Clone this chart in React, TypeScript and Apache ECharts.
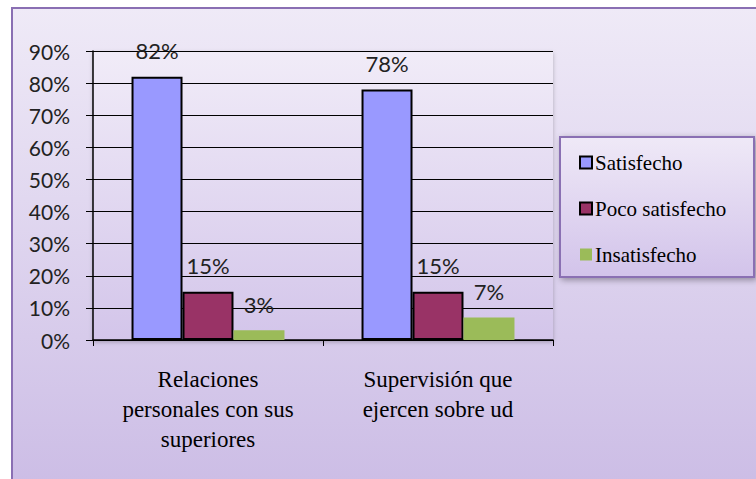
import React, { useEffect, useRef } from "react";
import * as echarts from "echarts";

const categories = [
  "Relaciones\npersonales con sus\nsuperiores",
  "Supervisión que\nejercen sobre ud",
];
const seriesNames = ["Satisfecho", "Poco satisfecho", "Insatisfecho"];
const satisfecho = [82, 78];
const pocoSatisfecho = [15, 15];
const insatisfecho = [3, 7];
const yTicks = { min: 0, max: 90, interval: 10 };

const SERIF = "Liberation Serif, serif";
const SANS = "Lato, sans-serif";

export default function App() {
  const ref = useRef<HTMLDivElement>(null);
  useEffect(() => {
    if (!ref.current) return;
    const chart = echarts.init(ref.current, null, { renderer: "svg" });
    const grad = (a: string, b: string) =>
      new echarts.graphic.LinearGradient(0, 0, 0, 1, [
        { offset: 0, color: a },
        { offset: 1, color: b },
      ]);
    const labelCfg = {
      show: true,
      position: "top",
      distance: 15,
      formatter: "{c}%",
      fontFamily: SANS,
      fontSize: 22,
      color: "#222",
    };
    chart.setOption({
      animation: false,
      backgroundColor: "#ffffff",
      graphic: [
        {
          type: "rect",
          z: -10,
          silent: true,
          shape: { x: 12, y: 8, width: 800, height: 520 },
          style: {
            fill: grad("#efeaf7", "#c9b9e4"),
            stroke: "#8a6fb3",
            lineWidth: 2,
          },
        },
        {
          type: "rect",
          z: -9,
          silent: true,
          shape: { x: 93, y: 51, width: 460, height: 289 },
          style: {
            fill: grad("#f1ecf8", "#d3c5ea"),
            shadowBlur: 4,
            shadowColor: "rgba(0,0,0,0.25)",
            shadowOffsetY: 2,
          },
        },
        {
          type: "rect",
          z: -5,
          silent: true,
          shape: { x: 560, y: 137, width: 194, height: 140 },
          style: {
            fill: grad("#efe9f7", "#d2c3ea"),
            stroke: "#8a6fb3",
            lineWidth: 2,
            shadowBlur: 6,
            shadowColor: "rgba(0,0,0,0.35)",
            shadowOffsetX: 2,
            shadowOffsetY: 2,
          },
        },
      ],
      grid: { left: 93, right: 203, top: 51, bottom: 139 },
      legend: {
        orient: "vertical",
        left: 574,
        top: 147,
        itemGap: 25,
        itemWidth: 12,
        itemHeight: 12,
        icon: "rect",
        data: seriesNames,
        textStyle: {
          fontFamily: SERIF,
          fontSize: 21,
          color: "#000",
          padding: [0, 0, 0, -2],
        },
      },
      xAxis: {
        type: "category",
        data: categories,
        axisLine: { show: true, lineStyle: { color: "#000", width: 1.5 } },
        axisTick: { show: true, length: 6, lineStyle: { color: "#000" } },
        axisLabel: {
          interval: 0,
          fontFamily: SERIF,
          fontSize: 23,
          lineHeight: 30,
          color: "#000",
          margin: 24,
        },
      },
      yAxis: {
        type: "value",
        min: yTicks.min,
        max: yTicks.max,
        interval: yTicks.interval,
        axisLine: { show: true, lineStyle: { color: "#000", width: 1.5 } },
        axisTick: { show: true, length: 7, lineStyle: { color: "#000" } },
        splitLine: { show: true, lineStyle: { color: "#000", width: 1 } },
        axisLabel: {
          formatter: "{value}%",
          fontFamily: SANS,
          fontSize: 21,
          color: "#222",
          margin: 23,
        },
      },
      series: [
        {
          name: seriesNames[0],
          type: "bar",
          data: satisfecho,
          barGap: "0%",
          barCategoryGap: "33.5%",
          itemStyle: { color: "#9999ff", borderColor: "#000", borderWidth: 2 },
          label: labelCfg,
        },
        {
          name: seriesNames[1],
          type: "bar",
          data: pocoSatisfecho,
          barGap: "0%",
          barCategoryGap: "33.5%",
          itemStyle: { color: "#993366", borderColor: "#000", borderWidth: 2 },
          label: labelCfg,
        },
        {
          name: seriesNames[2],
          type: "bar",
          data: insatisfecho,
          barGap: "0%",
          barCategoryGap: "33.5%",
          itemStyle: { color: "#9bbb59" },
          label: labelCfg,
        },
      ],
    });
    return () => chart.dispose();
  }, []);
  return (
    <div
      ref={ref}
      style={{ position: "fixed", left: 0, top: 0, width: 756, height: 479 }}
    />
  );
}
